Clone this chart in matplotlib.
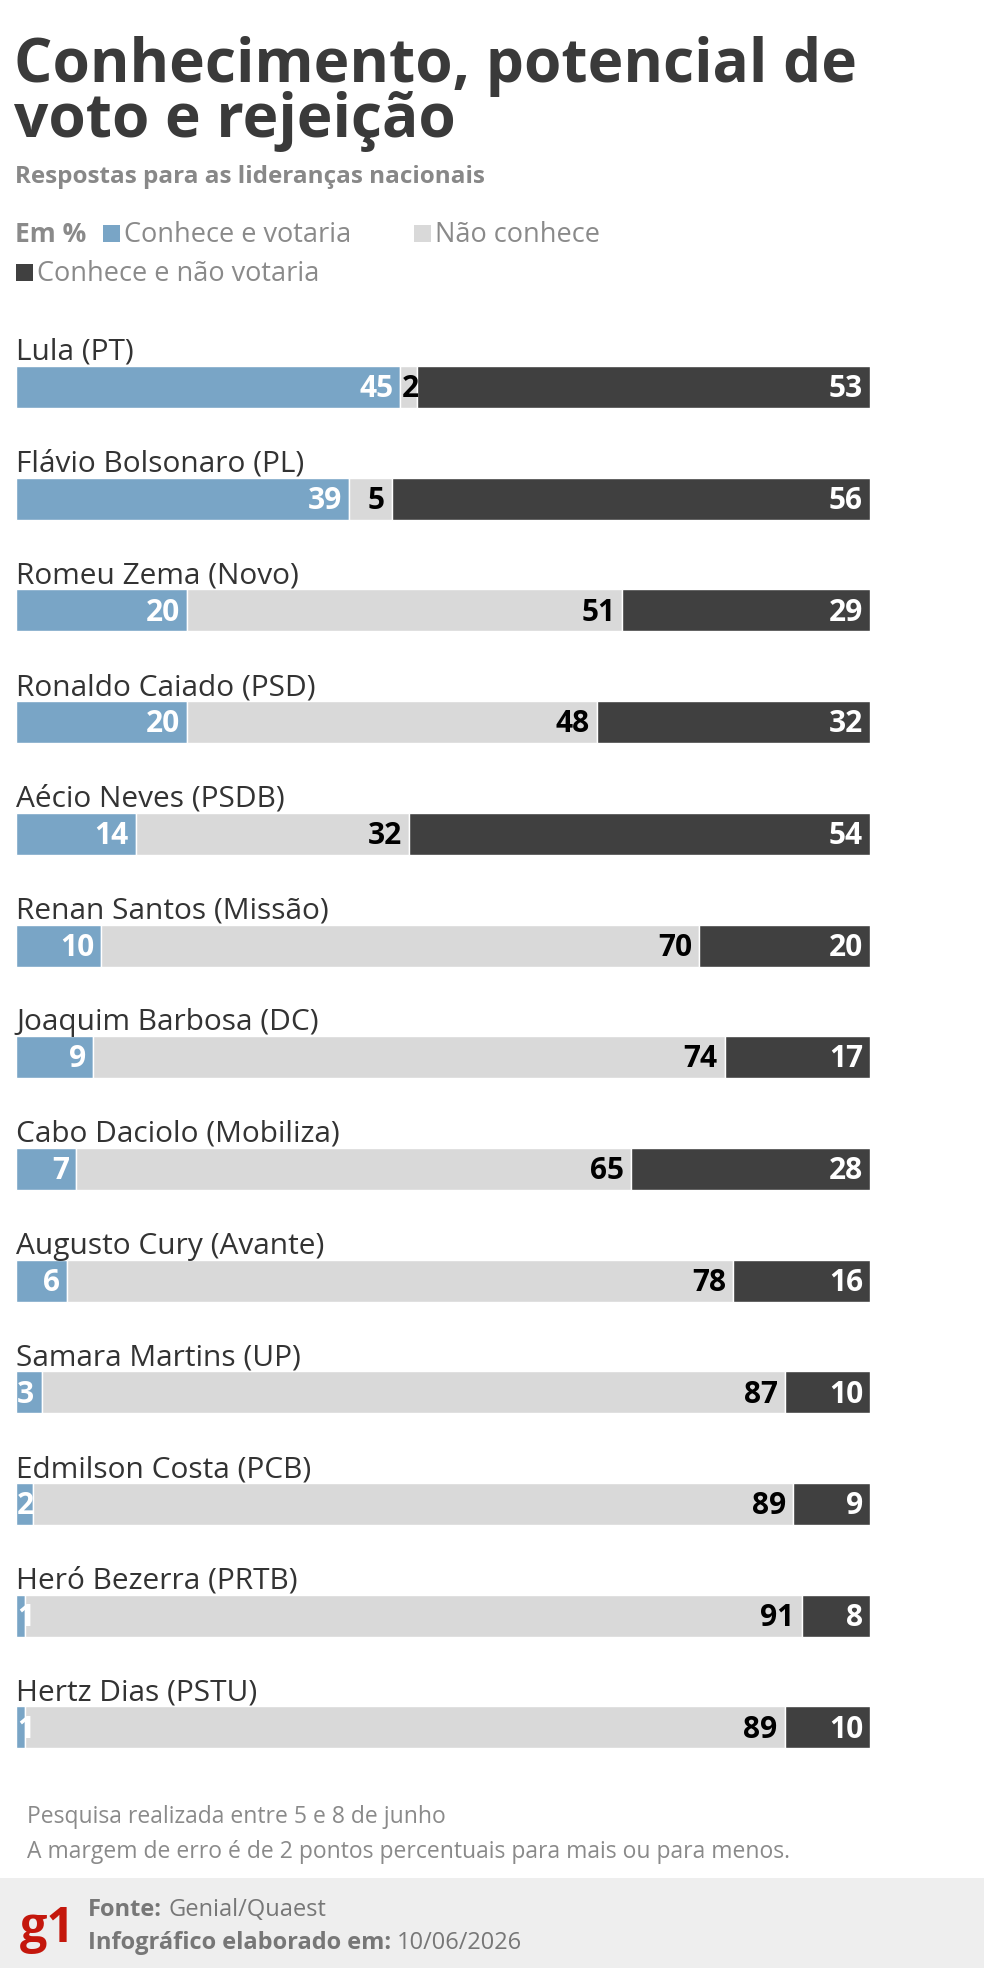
import matplotlib
matplotlib.use('Agg')
import matplotlib.pyplot as plt
from matplotlib.patches import Rectangle

plt.rcParams['font.family'] = ['Open Sans', 'DejaVu Sans']

# data
names = ['Lula (PT)', 'Flávio Bolsonaro (PL)', 'Romeu Zema (Novo)', 'Ronaldo Caiado (PSD)',
         'Aécio Neves (PSDB)', 'Renan Santos (Missão)', 'Joaquim Barbosa (DC)',
         'Cabo Daciolo (Mobiliza)', 'Augusto Cury (Avante)', 'Samara Martins (UP)',
         'Edmilson Costa (PCB)', 'Heró Bezerra (PRTB)', 'Hertz Dias (PSTU)']
votaria = [45, 39, 20, 20, 14, 10, 9, 7, 6, 3, 2, 1, 1]
nao_conhece = [2, 5, 51, 48, 32, 70, 74, 65, 78, 87, 89, 91, 89]
nao_votaria = [53, 56, 29, 32, 54, 20, 17, 28, 16, 10, 9, 8, 10]
series_labels = ['Conhece e votaria', 'Não conhece', 'Conhece e não votaria']

BLUE = '#79a5c6'
LGRAY = '#d9d9d9'
DARK = '#404040'
colors = [BLUE, LGRAY, DARK]
text_colors = ['white', 'black', 'white']

W, H = 984, 1968
fig = plt.figure(figsize=(W / 100, H / 100), dpi=100)
fig.patch.set_facecolor('white')

def fx(px):
    return px / W

def fy(py):
    return 1 - py / H

# header
fig.text(fx(14), fy(82), 'Conhecimento, potencial de', fontsize=43.5, fontweight='bold',
         color='#3a3a3a', va='baseline')
fig.text(fx(14), fy(137), 'voto e rejeição', fontsize=43.5, fontweight='bold',
         color='#3a3a3a', va='baseline')
fig.text(fx(15), fy(183), 'Respostas para as lideranças nacionais', fontsize=17.5,
         fontweight='bold', color='#888888', va='baseline')

# legend
leg_y1, leg_y2 = 242, 281
fig.text(fx(15), fy(leg_y1), 'Em %', fontsize=19, fontweight='bold', color='#8a8a8a', va='baseline')
leg_pos = [(103, leg_y1), (414, leg_y1), (16, leg_y2)]
for (lx, ly), lab, col in zip(leg_pos, series_labels, colors):
    fig.patches.append(Rectangle((fx(lx), fy(ly)), fx(17), 17 / H, transform=fig.transFigure,
                                 facecolor=col, edgecolor='none'))
    fig.text(fx(lx + 21), fy(ly), lab, fontsize=19.5, color='#8a8a8a', va='baseline')

# bars
row_h = 111.7
first_c = 387
n = len(names)
top_px = first_c - 0.75 * row_h
bot_px = first_c + (n - 1) * row_h + 0.5 * row_h
ax = fig.add_axes([fx(16), fy(bot_px), fx(870 - 16), (bot_px - top_px) / H])
ax.set_xlim(0, 100)
ax.set_ylim(n - 0.5, -0.75)
ax.axis('off')

bar_h = 42 / row_h
pad = 7 * 100 / 854
for i in range(n):
    vals = [votaria[i], nao_conhece[i], nao_votaria[i]]
    left = 0
    for j, v in enumerate(vals):
        ax.barh(i, v, left=left, height=bar_h, color=colors[j], edgecolor='white', linewidth=1)
        if v <= 3:
            ax.text(left + 0.15, i + 0.02, str(v), ha='left', va='center', fontsize=21.5,
                    fontweight='bold', color=text_colors[j])
        else:
            ax.text(left + v - pad, i + 0.02, str(v), ha='right', va='center', fontsize=21.5,
                    fontweight='bold', color=text_colors[j])
        left += v
    ax.text(0, i - bar_h / 2 - 6 / row_h, names[i], ha='left', va='baseline', fontsize=21.5,
            color='#333333')

# notes
fig.text(fx(27), fy(1823), 'Pesquisa realizada entre 5 e 8 de junho', fontsize=16.5,
         color='#8a8a8a', va='baseline')
fig.text(fx(27), fy(1858), 'A margem de erro é de 2 pontos percentuais para mais ou para menos.',
         fontsize=16.5, color='#8a8a8a', va='baseline')

# footer band
fig.patches.append(Rectangle((0, 0), 1, fy(1878), transform=fig.transFigure,
                             facecolor='#eeeeee', edgecolor='none'))
fig.text(fx(20), fy(1942), 'g1', fontsize=35, fontweight='bold', color='#c4170c', va='baseline')

renderer = fig.canvas.get_renderer()

def two_part(x, y, bold, normal):
    t = fig.text(fx(x), fy(y), bold, fontsize=17, fontweight='bold', color='#777777', va='baseline')
    bb = t.get_window_extent(renderer)
    fig.text(bb.x1 / W + fx(6), fy(y), normal, fontsize=17, color='#777777', va='baseline')

two_part(88, 1916, 'Fonte:', 'Genial/Quaest')
two_part(88, 1949, 'Infográfico elaborado em:', '10/06/2026')

fig.savefig('out.png', dpi=100)
